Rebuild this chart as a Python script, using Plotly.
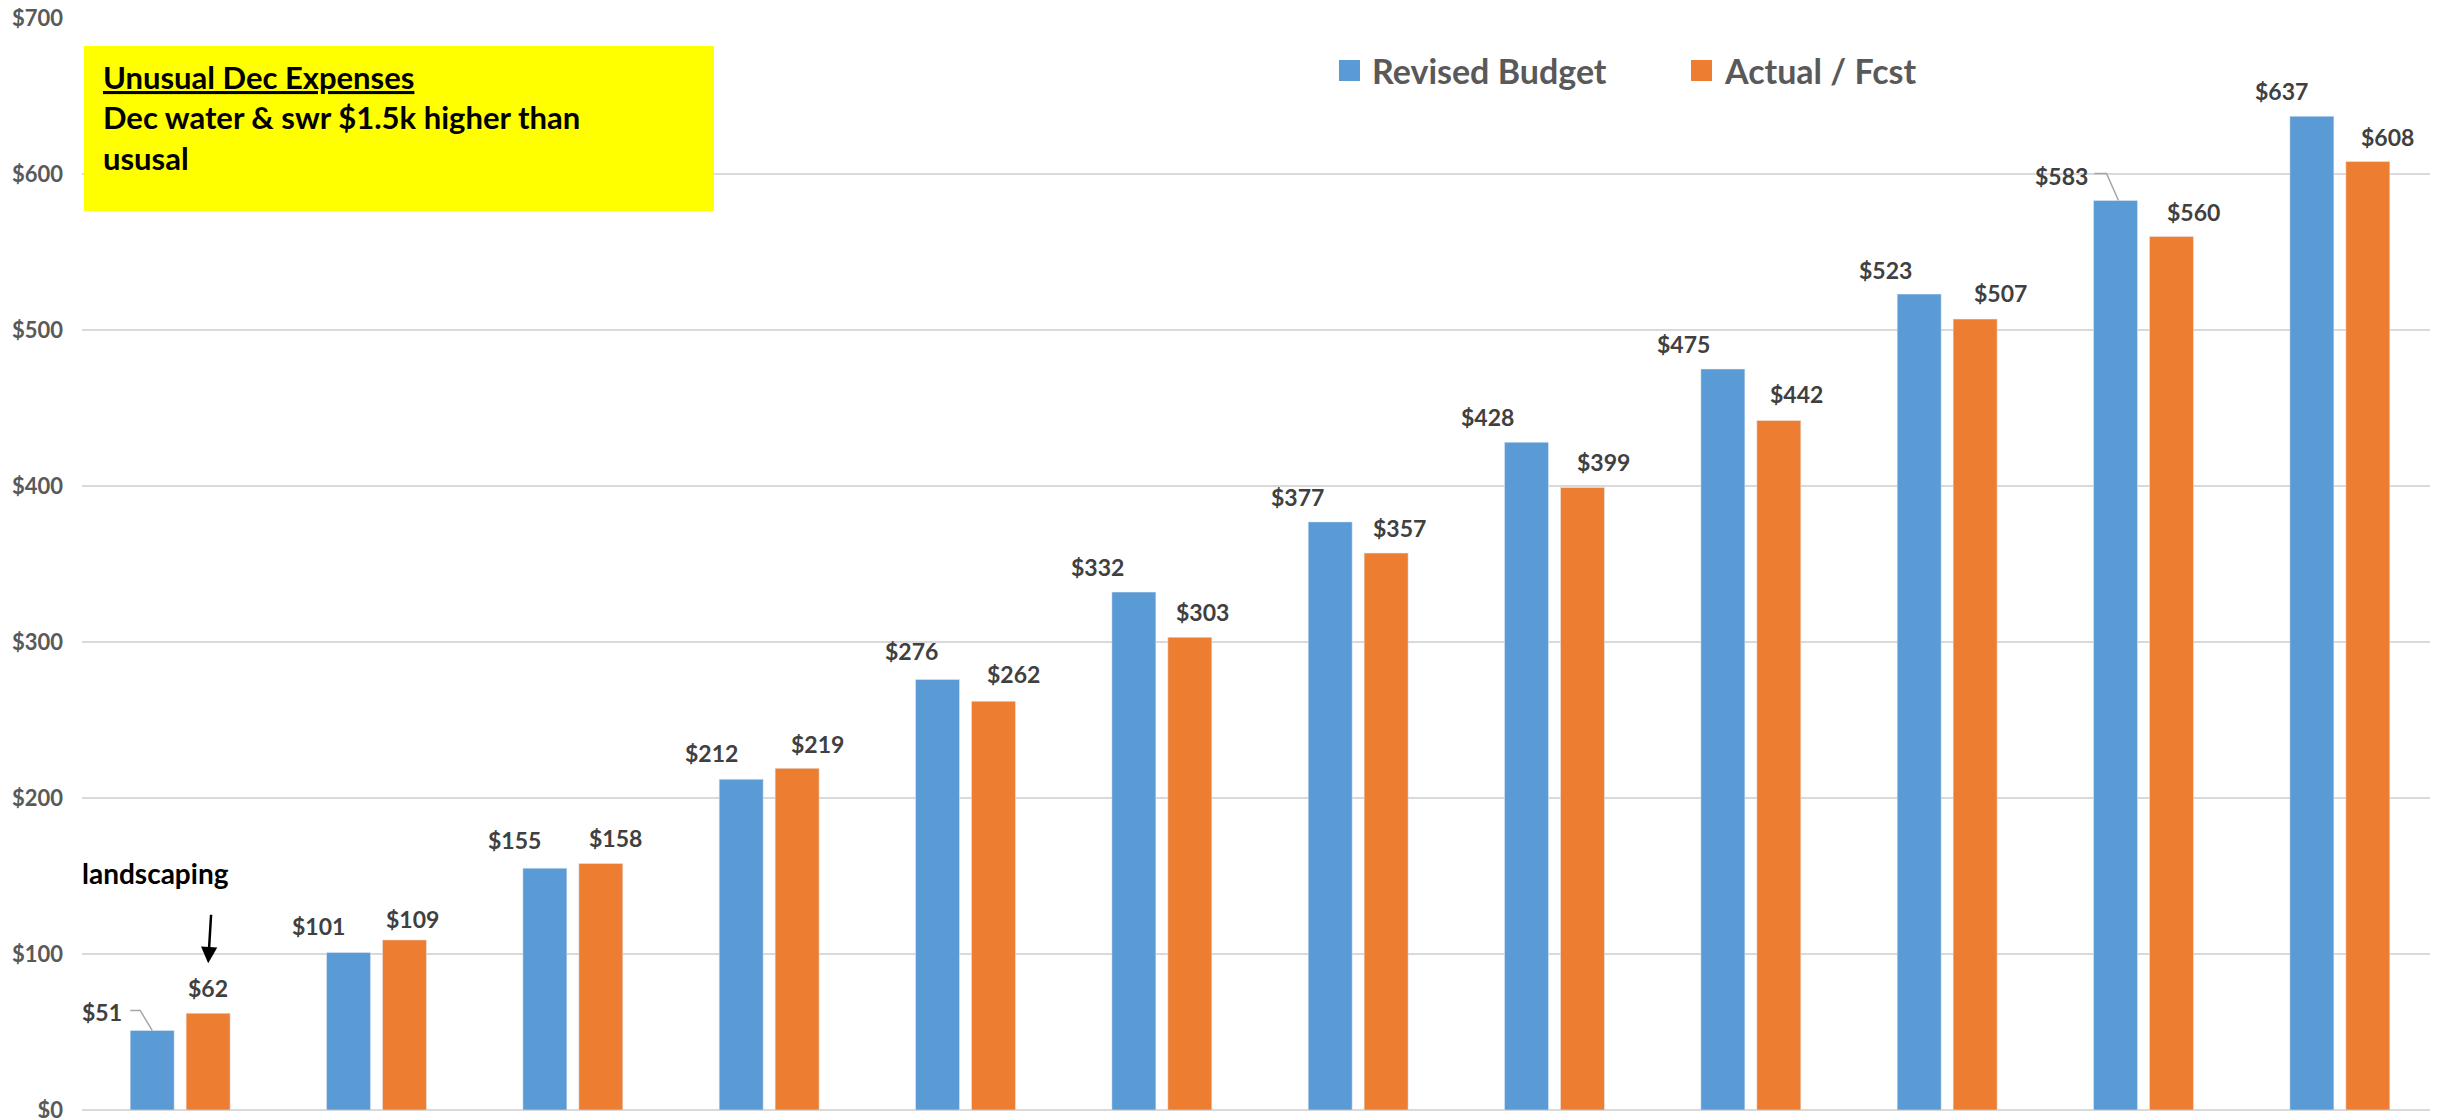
import plotly.graph_objects as go

# ---- data ----
periods = list(range(1, 13))
budget = [51, 101, 155, 212, 276, 332, 377, 428, 475, 523, 583, 637]
actual = [62, 109, 158, 219, 262, 303, 357, 399, 442, 507, 560, 608]
y_ticks = [0, 100, 200, 300, 400, 500, 600, 700]
series_names = ["Revised Budget", "Actual / Fcst"]
box_title = "Unusual Dec Expenses"
box_lines = ["Dec water & swr $1.5k higher than", "ususal"]
callout_text = "landscaping"

# ---- styles ----
BLUE = "#5B9BD5"
ORANGE = "#ED7D31"
FONT = "Lato"
LABEL_COLOR = "#404040"
AXIS_COLOR = "#595959"
GRID = "#D9D9D9"
OFF = 8  # page body margin
W, H = 2438 - OFF, 1118 - OFF
ML, MR, MT, MB = 82 - OFF, 0, 18 - OFF, 8
HALF = 28  # px from group centre to each bar centre

# per-label nudges (px, relative to bar centre / bar top)
blue_dx = [-50, -30, -30, -30, -26, -36, -33, -39, -39, -34, -54, -30]
orange_dx = [0, 8, 15, 20, 20, 13, 13, 21, 18, 25, 22, 20]
blue_dy = [18, 26, 28, 26, 28, 25, 25, 25, 25, 24, 25, 25]
orange_dy = [25, 21, 26, 24, 27, 25, 25, 26, 26, 26, 24, 25]


def px_to_paper_x(px):
    return (px - OFF - ML) / (W - ML - MR)


def py_to_paper_y(py):
    return (OFF + H - MB - py) / (H - MT - MB)


fig = go.Figure()
fig.add_bar(x=periods, y=budget, name=series_names[0], marker_color=BLUE,
            showlegend=False)
fig.add_bar(x=periods, y=actual, name=series_names[1], marker_color=ORANGE,
            showlegend=False)

label_font = dict(family=FONT, size=23, color=LABEL_COLOR, weight="bold")
annotations = []
for i, (p, b, a) in enumerate(zip(periods, budget, actual)):
    annotations.append(dict(x=p, y=b, text=f"${b}", showarrow=False,
                            xshift=-HALF + blue_dx[i], yshift=blue_dy[i],
                            xanchor="center", yanchor="middle", font=label_font))
    annotations.append(dict(x=p, y=a, text=f"${a}", showarrow=False,
                            xshift=HALF + orange_dx[i], yshift=orange_dy[i],
                            xanchor="center", yanchor="middle", font=label_font))

# leader lines for the two moved labels
shapes = []
for idx, path in [(0, "M-50,20 L-40,20 L-28,0"), (10, "M-49,27 L-37,27 L-25,0")]:
    shapes.append(dict(type="path", xref="x", yref="y", xsizemode="pixel", ysizemode="pixel",
                       xanchor=periods[idx], yanchor=budget[idx], path=path,
                       line=dict(color="#A6A6A6", width=1.5)))

# landscaping arrow + text
annotations.append(dict(x=periods[0], y=actual[0], text="", showarrow=True,
                        xshift=HALF, yshift=50, ax=3, ay=-50,
                        arrowhead=2, arrowsize=1.3, arrowwidth=2.5, arrowcolor="black"))
annotations.append(dict(x=periods[0], y=actual[0], text=callout_text, showarrow=False,
                        xshift=-25, yshift=140, xanchor="center", yanchor="middle",
                        font=dict(family=FONT, size=28, color="black", weight="bold")))

# yellow note box
shapes.append(dict(type="rect", xref="paper", yref="paper",
                   x0=px_to_paper_x(84), x1=px_to_paper_x(714),
                   y0=py_to_paper_y(211), y1=py_to_paper_y(46),
                   fillcolor="#FFFF00", line=dict(width=0), layer="above"))
annotations.append(dict(xref="paper", yref="paper", x=px_to_paper_x(101), y=py_to_paper_y(56),
                        xanchor="left", yanchor="top", align="left", showarrow=False,
                        text="<u>" + box_title + "</u><br>" + "<br>".join(box_lines),
                        font=dict(family=FONT, size=31, color="black", weight="bold")))

# manual legend
for name, color, sx in [(series_names[0], BLUE, 1339), (series_names[1], ORANGE, 1691)]:
    shapes.append(dict(type="rect", xref="paper", yref="paper",
                       x0=px_to_paper_x(sx), x1=px_to_paper_x(sx + 21),
                       y0=py_to_paper_y(81), y1=py_to_paper_y(60),
                       fillcolor=color, line=dict(width=0)))
    annotations.append(dict(xref="paper", yref="paper", x=px_to_paper_x(sx + 31),
                            y=py_to_paper_y(70.5), xanchor="left", yanchor="middle",
                            showarrow=False, text=name,
                            font=dict(family=FONT, size=34, color=AXIS_COLOR, weight="bold")))

fig.update_layout(
    width=W, height=H,
    margin=dict(l=ML, r=MR, t=MT, b=MB, pad=0, autoexpand=False),
    paper_bgcolor="white", plot_bgcolor="white",
    barmode="group", bargap=0.43, bargroupgap=0.214,
    annotations=annotations, shapes=shapes,
    showlegend=False,
    font=dict(family=FONT),
)
fig.update_xaxes(range=[0.5, 12.5], showticklabels=False, showgrid=False,
                 zeroline=False, showline=False, ticks="", automargin=False)
fig.update_yaxes(range=[0, 700], tickvals=y_ticks, ticktext=[f"${v}" for v in y_ticks],
                 showgrid=True, gridcolor=GRID, gridwidth=2, zeroline=True,
                 zerolinecolor=GRID, zerolinewidth=2, ticks="", automargin=False,
                 ticklabelstandoff=18, ticklabeloverflow="allow",
                 tickfont=dict(family=FONT, size=22, color=AXIS_COLOR, weight="bold"))

fig.write_html("out.html")
